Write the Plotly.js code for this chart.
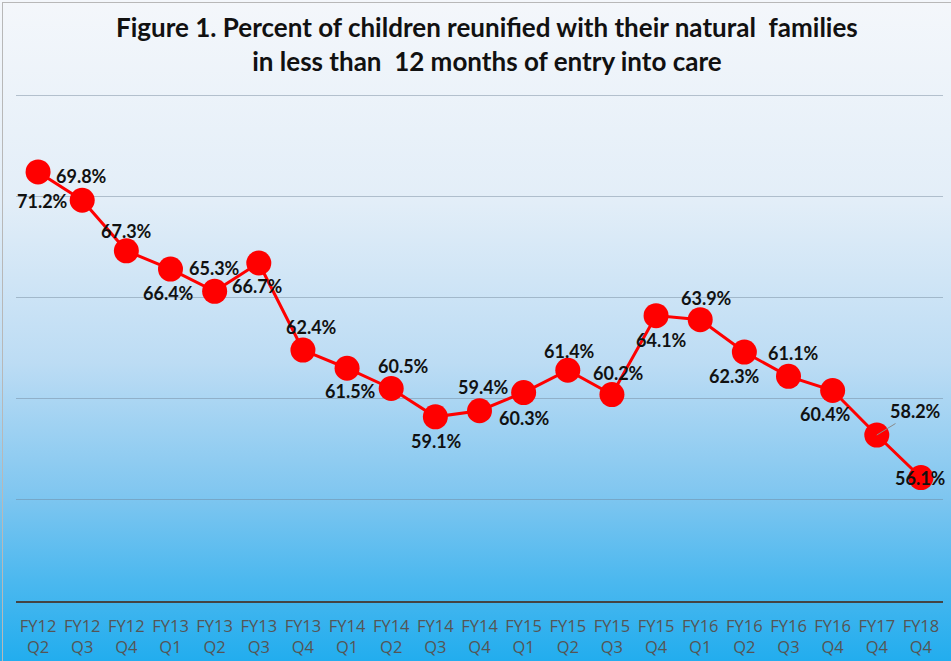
<!DOCTYPE html>
<html>
<head>
<meta charset="utf-8">
<script src="https://cdn.plot.ly/plotly-3.0.1.min.js"></script>
<style>
  body { margin: 0; }
  #wrap { position: relative; width: 951px; height: 661px;
    background: linear-gradient(to bottom, #f4f7fb 0%, #e3eef8 30%, #bcdcf4 55%, #7fc6f0 75%, #4bb8ef 88%, #22adee 100%); }
  #grafico { width: 951px; height: 661px; }
  #borde { position: absolute; left: 2px; top: 2px; right: 0; bottom: 0;
    border-left: 1px solid #b8b8b8; border-top: 1px solid #b8b8b8; pointer-events: none; }
</style>
</head>
<body>
<div id="wrap">
  <div id="grafico"></div>
  <div id="borde"></div>
</div>
<script>
const periodos = ['FY12 Q2', 'FY12 Q3', 'FY12 Q4', 'FY13 Q1', 'FY13 Q2', 'FY13 Q3', 'FY13 Q4',
    'FY14 Q1', 'FY14 Q2', 'FY14 Q3', 'FY14 Q4', 'FY15 Q1', 'FY15 Q2', 'FY15 Q3', 'FY15 Q4',
    'FY16 Q1', 'FY16 Q2', 'FY16 Q3', 'FY16 Q4', 'FY17 Q4', 'FY18 Q4'];
const porcentajes = [71.2, 69.8, 67.3, 66.4, 65.3, 66.7, 62.4, 61.5, 60.5, 59.1, 59.4,
    60.3, 61.4, 60.2, 64.1, 63.9, 62.3, 61.1, 60.4, 58.2, 56.1];

// desplazamiento de cada etiqueta (px) respecto al punto
const etiquetaDx = [4, -1, 0, -2, 0, -1, 9, 3, 12, 1, 4, 1, 2, 7, 5, 6, -10, 5, -7, 39, 0];
const etiquetaDy = [-29, 24, 20, -24, 23, -23, 23, -23, 22, -24, 24, -25, 19, 22, -24, 22, -24, 23, -23, 24, 0];

const categorias = periodos.map(p => p.replace(' ', '<br>'));

const data = [{
    x: categorias,
    y: porcentajes,
    type: 'scatter',
    mode: 'lines+markers',
    line: { color: '#ff0000', width: 3 },
    marker: { color: '#ff0000', size: 25 },
    hoverinfo: 'skip'
}];

const anotaciones = porcentajes.map((v, i) => {
    const a = {
        x: categorias[i],
        y: v,
        text: v.toFixed(1) + '%',
        showarrow: false,
        xshift: etiquetaDx[i],
        yshift: etiquetaDy[i],
        font: { family: 'Lato, sans-serif', size: 18, color: '#111111', weight: 'bold' }
    };
    if (i === 19) {
        // linea guia para 58.2%
        a.showarrow = true;
        a.arrowhead = 0;
        a.arrowwidth = 1;
        a.arrowcolor = '#8a8a8a';
        a.ax = etiquetaDx[i];
        a.ay = -etiquetaDy[i];
        a.xshift = 0;
        a.yshift = 0;
        a.standoff = 0;
    }
    return a;
});

const layout = {
    width: 951,
    height: 661,
    paper_bgcolor: 'rgba(0,0,0,0)',
    plot_bgcolor: 'rgba(0,0,0,0)',
    margin: { l: 16, r: 8, t: 93, b: 60 },
    showlegend: false,
    title: {
        text: '<b>Figure 1. Percent of children reunified with their natural  families<br>in less than  12 months of entry into care</b>',
        font: { family: 'Lato, sans-serif', size: 26, color: '#111111' },
        x: 0.512,
        xanchor: 'center',
        y: 0.944,
        yanchor: 'top'
    },
    xaxis: {
        type: 'category',
        range: [-0.5, 20.5],
        showgrid: false,
        showline: true,
        linecolor: '#444444',
        linewidth: 2,
        ticks: '',
        ticklabelstandoff: 9,
        tickfont: { family: '"Open Sans", sans-serif', size: 16.5, color: '#555555' },
        fixedrange: true
    },
    yaxis: {
        range: [50, 75.1],
        dtick: 5,
        showticklabels: false,
        showgrid: true,
        gridcolor: 'rgba(110,130,150,0.45)',
        gridwidth: 1,
        zeroline: false,
        showline: false,
        fixedrange: true
    },
    annotations: anotaciones
};

Plotly.newPlot('grafico', data, layout, { displayModeBar: false, staticPlot: true });
</script>
</body>
</html>
